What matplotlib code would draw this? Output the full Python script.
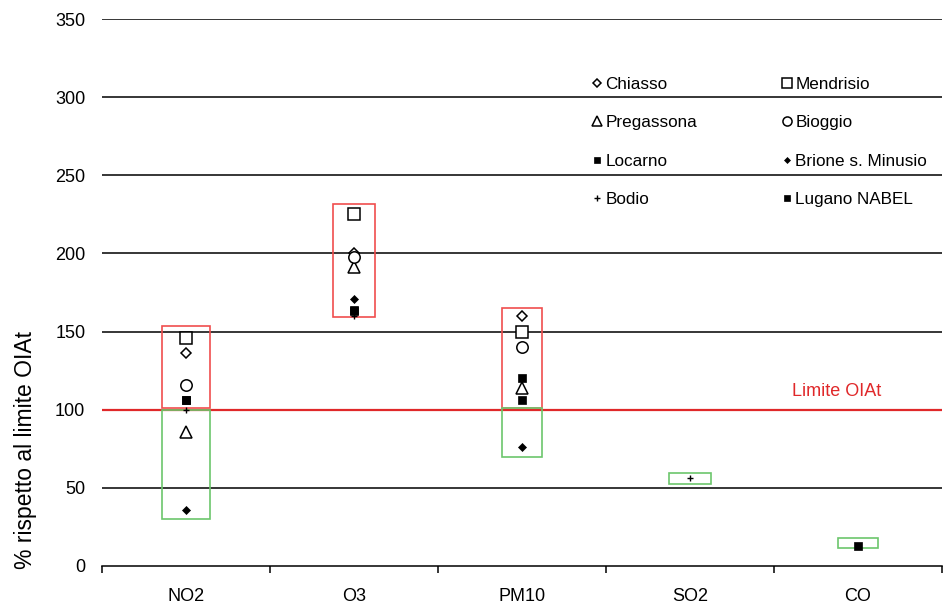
import numpy as np
import matplotlib
matplotlib.use("Agg")
import matplotlib.pyplot as plt
import matplotlib.transforms as mtransforms
from matplotlib.lines import Line2D

plt.rcParams['font.family'] = ['Liberation Sans', 'DejaVu Sans']

# ---- data ----
categories = ["NO2", "O3", "PM10", "SO2", "CO"]
nan = np.nan
stations = ["Chiasso", "Mendrisio", "Pregassona", "Bioggio",
            "Locarno", "Brione s. Minusio", "Bodio", "Lugano NABEL"]
chiasso    = [136, 200, 160, nan, nan]
mendrisio  = [146, 225, 150, nan, nan]
pregassona = [86, 191, 114, nan, nan]
bioggio    = [116, 198, 140, nan, nan]
locarno    = [106, 164, 120, nan, nan]
brione     = [36, 171, 76, nan, nan]
bodio      = [100, 160, nan, 56, nan]
lugano     = [106, 163, 106, nan, 13]
series_values = [chiasso, mendrisio, pregassona, bioggio, locarno, brione, bodio, lugano]

# range boxes (above / below the limit)
red_low   = [101, 159.5, 101, nan, nan]
red_high  = [153.5, 231.5, 165, nan, nan]
green_low = [30, nan, 70, 52.3, 11.5]
green_high= [100, nan, 101, 59.7, 18.1]
limit_value = 100
yticks = [0, 50, 100, 150, 200, 250, 300, 350]

# ---- styles ----
styles = [
    dict(marker='D', ms=5.6, mfc='white', mec='black', mew=1.1),
    dict(marker='s', ms=8.4, mfc='white', mec='black', mew=1.1),
    dict(marker='^', ms=8.2, mfc='white', mec='black', mew=1.1),
    dict(marker='o', ms=8.2, mfc='white', mec='black', mew=1.1),
    dict(marker='s', ms=6.0, mfc='black', mec='black', mew=0.5),
    dict(marker='D', ms=3.8, mfc='black', mec='black', mew=0.5),
    dict(marker='+', ms=5.0, mfc='black', mec='black', mew=1.0),
    dict(marker='s', ms=6.0, mfc='black', mec='black', mew=0.5),
]
box_widths = [0.286, 0.25, 0.24, 0.255, 0.24]

fig = plt.figure(figsize=(9.43, 6.06), dpi=100)
ax = fig.add_axes([102/943, 1-566/606, 840/943, 547/606])

x = np.arange(len(categories))
ax.set_xlim(-0.5, len(categories) - 0.5)
ax.set_ylim(0, 350)

# gridlines
for yv in yticks[1:]:
    ax.axhline(yv, color='black', lw=1.1, zorder=1)

# limit line
ax.axhline(limit_value, color='#E0282A', lw=1.6, zorder=2)
pix = mtransforms.Affine2D().scale(1, -1).translate(0, 606)
ax.text(837, 391, "Limite OIAt", transform=pix, color='#E0282A',
        fontsize=13, ha='center', va='center')

# boxes
for i in range(len(categories)):
    w = box_widths[i]
    if not np.isnan(red_low[i]):
        ax.add_patch(plt.Rectangle((x[i]-w/2, red_low[i]), w, red_high[i]-red_low[i],
                                   fill=False, edgecolor='#F04E4E', lw=1.2, zorder=3))
    if not np.isnan(green_low[i]):
        ax.add_patch(plt.Rectangle((x[i]-w/2, green_low[i]), w, green_high[i]-green_low[i],
                                   fill=False, edgecolor='#6CC66C', lw=1.2, zorder=3))

# points
handles = []
for name, vals, st in zip(stations, series_values, styles):
    ax.plot(x, vals, linestyle='none', zorder=4, **st)
    handles.append(Line2D([], [], linestyle='none', label=name, **st))

# legend ordering (row-major display with 2 columns)
order = [0, 2, 4, 6, 1, 3, 5, 7]
leg = ax.legend([handles[i] for i in order], [stations[i] for i in order],
                ncol=2, frameon=False, fontsize=12.3, markerscale=0.8,
                loc='upper left', bbox_to_anchor=(590/943, 1-77/606),
                bbox_transform=fig.transFigure, borderpad=0, borderaxespad=0,
                handlelength=0.8, handletextpad=0.1, columnspacing=4.84,
                labelspacing=1.37)

# axes styling
for s in ['top', 'right', 'left']:
    ax.spines[s].set_visible(False)
ax.spines['bottom'].set_linewidth(1.1)
ax.set_yticks(yticks)
ax.set_yticklabels([str(v) for v in yticks])
ax.tick_params(axis='y', length=0, pad=12, labelsize=13)
ax.set_xticks(x)
ax.set_xticklabels(categories)
ax.tick_params(axis='x', which='major', length=0, pad=15.5, labelsize=13)
ax.set_xticks(np.arange(-0.5, len(categories)), minor=True)
ax.tick_params(axis='x', which='minor', length=5, width=1.1, direction='out')

ax.set_ylabel("% rispetto al limite OIAt", fontsize=16.5)
ax.yaxis.set_label_coords((37-102)/840, (566-450)/547)

fig.savefig("out.png", dpi=100)
